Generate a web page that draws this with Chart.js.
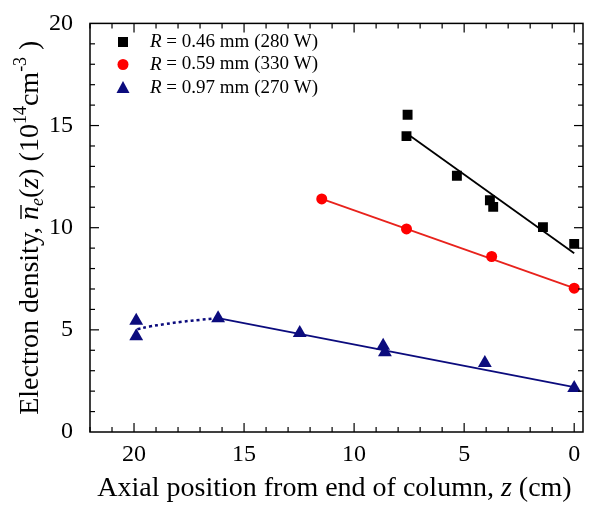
<!DOCTYPE html>
<html>
<head>
<meta charset="utf-8">
<script src="https://cdn.jsdelivr.net/npm/chart.js@4.4.0/dist/chart.umd.min.js"></script>
<style>
  html, body { margin: 0; padding: 0; background: #fff; }
  #wrap { width: 591px; height: 509px; position: relative; }
</style>
</head>
<body>
<div id="wrap"><canvas id="densityChart" width="591" height="509"></canvas></div>
<script>
// measured points, z in cm, density in 1e14 cm^-3
const zBlack = [7.57, 7.62, 5.33, 3.83, 3.68, 1.42, 0.0]
const nBlack = [15.53, 14.48, 12.54, 11.34, 11.02, 10.03, 9.21]
const zRed = [11.47, 7.62, 3.75, 0.0]
const nRed = [11.41, 9.94, 8.59, 7.04]
const zBlue = [19.9, 19.9, 16.18, 12.47, 8.68, 8.6, 4.06, 0.0]
const nBlue = [5.44, 4.69, 5.57, 4.84, 4.22, 3.9, 3.38, 2.15]

// fit lines as drawn in the figure
const zFitBlack = [7.62, 0.0]
const nFitBlack = [14.62, 8.75]
const zFitRed = [11.47, 0.0]
const nFitRed = [11.41, 7.04]
const zFitBlue = [16.18, 0.0]
const nFitBlue = [5.57, 2.2]
const zDotBlue = [19.85, 19.3, 18.6, 17.8, 17.0, 16.18]
const nDotBlue = [5.03, 5.16, 5.28, 5.40, 5.49, 5.57]

const xTicks = [20, 15, 10, 5, 0]
const yTicks = [0, 5, 10, 15, 20]

const legendLabels = [' = 0.46 mm (280 W)', ' = 0.59 mm (330 W)', ' = 0.97 mm (270 W)']

const BLACK = '#000000'
const RED = '#ff0000'
const RED_LINE = '#e8221c'
const NAVY = '#0b0b7d'
const SERIF = '"Liberation Serif", "Times New Roman", serif'

const toPoints = (xs, ys) => xs.map((v, i) => ({ x: v, y: ys[i] }))

const markerSet = (xs, ys, style, radius, color) => ({
    data: toPoints(xs, ys),
    showLine: false,
    pointStyle: style,
    pointRadius: radius,
    pointBackgroundColor: color,
    pointBorderColor: color,
    pointBorderWidth: 0,
    order: 0,
})

const lineSet = (xs, ys, color, dash) => ({
    data: toPoints(xs, ys),
    showLine: true,
    borderColor: color,
    borderWidth: dash ? 2.5 : 1.8,
    borderDash: dash || [],
    pointRadius: 0,
    tension: dash ? 0.4 : 0,
    order: 1,
})

// draws a row of text pieces with their own fonts, centred on cx
const drawRuns = (ctx, runs, cx, cy) => {
    let total = 0
    for (const r of runs) {
        ctx.font = r.font
        r.w = ctx.measureText(r.text).width
        total += r.w
    }
    let px = cx - total / 2
    for (const r of runs) {
        ctx.font = r.font
        ctx.fillText(r.text, px, cy + (r.dy || 0))
        if (r.bar) {
            ctx.beginPath()
            ctx.lineWidth = 1.4
            ctx.moveTo(px + 1, cy - 17)
            ctx.lineTo(px + r.w + 1, cy - 17)
            ctx.stroke()
        }
        px += r.w
    }
}

const drawMarker = (ctx, style, x, y, color) => {
    ctx.fillStyle = color
    ctx.beginPath()
    if (style == 'rect') {
        ctx.rect(x - 5, y - 5, 10, 10)
    } else if (style == 'circle') {
        ctx.arc(x, y, 5.5, 0, Math.PI * 2)
    } else {
        ctx.moveTo(x, y - 7)
        ctx.lineTo(x + 6.5, y + 5)
        ctx.lineTo(x - 6.5, y + 5)
        ctx.closePath()
    }
    ctx.fill()
}

const frameAndLabels = {
    id: 'frameAndLabels',
    afterDraw(chart) {
        const { ctx, chartArea: a, scales: { x, y } } = chart
        ctx.save()
        ctx.strokeStyle = BLACK
        ctx.fillStyle = BLACK
        ctx.lineWidth = 1.5
        ctx.strokeRect(a.left, a.top, a.right - a.left, a.bottom - a.top)

        const tick = (x1, y1, x2, y2) => {
            ctx.beginPath()
            ctx.moveTo(x1, y1)
            ctx.lineTo(x2, y2)
            ctx.stroke()
        }
        ctx.lineWidth = 1.2
        for (let v = 0; v <= 22; v++) {
            const len = v % 5 == 0 ? 9 : 5
            const px = x.getPixelForValue(v)
            tick(px, a.bottom, px, a.bottom - len)
            tick(px, a.top, px, a.top + len)
        }
        for (let v = 1; v < 20; v++) {
            const len = v % 5 == 0 ? 9 : 5
            const py = y.getPixelForValue(v)
            tick(a.left, py, a.left + len, py)
            tick(a.right, py, a.right - len, py)
        }

        // legend
        const styles = ['rect', 'circle', 'triangle']
        const colors = [BLACK, RED, NAVY]
        const rows = [42, 64.5, 88]
        ctx.textBaseline = 'middle'
        ctx.textAlign = 'left'
        for (let i = 0; i < 3; i++) {
            drawMarker(ctx, styles[i], 123, rows[i], colors[i])
            ctx.fillStyle = BLACK
            ctx.font = 'italic 19px ' + SERIF
            ctx.fillText('R', 150, rows[i])
            const rw = ctx.measureText('R').width
            ctx.font = '19px ' + SERIF
            ctx.fillText(legendLabels[i], 150 + rw, rows[i])
        }

        // axis titles
        ctx.textBaseline = 'alphabetic'
        const reg = '28px ' + SERIF
        const ita = 'italic 28px ' + SERIF
        const small = '18px ' + SERIF
        const smallIta = 'italic 18px ' + SERIF
        drawRuns(ctx, [
            { text: 'Axial position from end of column, ', font: reg },
            { text: 'z', font: ita },
            { text: ' (cm)', font: reg },
        ], (a.left + a.right) / 2 - 2, 496)

        ctx.translate(38, (a.top + a.bottom) / 2)
        ctx.rotate(-Math.PI / 2)
        drawRuns(ctx, [
            { text: 'Electron density, ', font: reg },
            { text: 'n', font: ita, bar: true },
            { text: 'e', font: smallIta, dy: 5 },
            { text: '(', font: reg },
            { text: 'z', font: ita },
            { text: ') (10', font: reg },
            { text: '14', font: small, dy: -12 },
            { text: 'cm', font: reg },
            { text: '-3', font: small, dy: -12 },
            { text: ' )', font: reg },
        ], 0, 0)
        ctx.restore()
    }
}

new Chart(document.getElementById('densityChart'), {
    type: 'scatter',
    data: {
        datasets: [
            lineSet(zFitBlack, nFitBlack, BLACK),
            lineSet(zFitRed, nFitRed, RED_LINE),
            lineSet(zFitBlue, nFitBlue, NAVY),
            lineSet(zDotBlue, nDotBlue, NAVY, [3, 3]),
            markerSet(zBlack, nBlack, 'rect', 7, BLACK),
            markerSet(zRed, nRed, 'circle', 5.5, RED),
            markerSet(zBlue, nBlue, 'triangle', 8, NAVY),
        ]
    },
    options: {
        responsive: false,
        animation: false,
        devicePixelRatio: 1,
        layout: { padding: { top: 20, right: 8, left: 0, bottom: 0 } },
        plugins: { legend: { display: false }, tooltip: { enabled: false } },
        scales: {
            x: {
                type: 'linear',
                reverse: true,
                min: -0.4,
                max: 22,
                afterBuildTicks: (scale) => { scale.ticks = xTicks.map(v => ({ value: v })) },
                afterFit: (scale) => { scale.height = 77 },
                grid: { display: false },
                border: { display: false },
                ticks: { color: BLACK, font: { family: SERIF, size: 24 }, padding: 0, maxRotation: 0, autoSkip: false },
            },
            y: {
                min: 0,
                max: 20,
                afterBuildTicks: (scale) => { scale.ticks = yTicks.map(v => ({ value: v })) },
                afterFit: (scale) => { scale.width = 90 },
                grid: { display: false },
                border: { display: false },
                ticks: { color: BLACK, font: { family: SERIF, size: 24 }, padding: 9 },
            }
        }
    },
    plugins: [frameAndLabels]
});
</script>
</body>
</html>
